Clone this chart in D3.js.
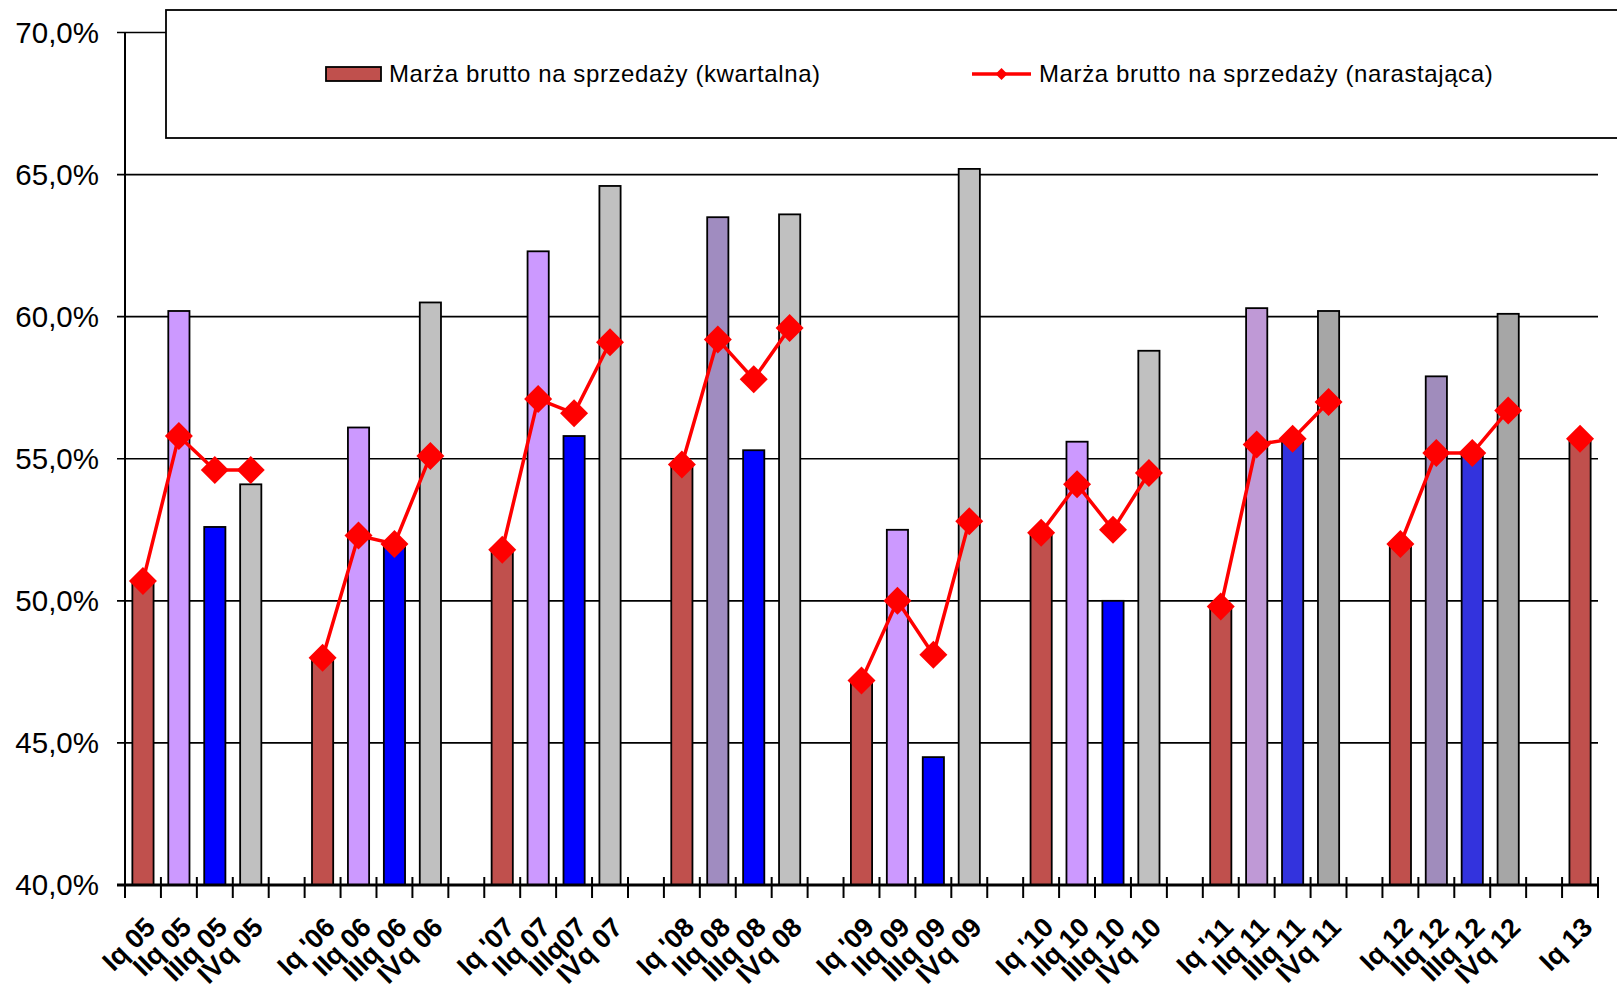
<!DOCTYPE html>
<html>
<head>
<meta charset="utf-8">
<script src="https://cdn.jsdelivr.net/npm/d3@7"></script>
<style>
  body { margin: 0; background: #fff; }
  svg { display: block; font-family: "Liberation Sans", Arial, sans-serif; }
</style>
</head>
<body>
<svg id="chart" width="1617" height="993"></svg>
<script>
// categories, "" = empty slot between years
var categories = [
  "Iq 05", "IIq 05", "IIIq 05", "IVq 05", "",
  "Iq '06", "IIq 06", "IIIq 06", "IVq 06", "",
  "Iq '07", "IIq 07", "IIIq07", "IVq 07", "",
  "Iq '08", "IIq 08", "IIIq 08", "IVq 08", "",
  "Iq '09", "IIq 09", "IIIq 09", "IVq 09", "",
  "Iq '10", "IIq 10", "IIIq 10", "IVq 10", "",
  "Iq '11", "IIq 11", "IIIq 11", "IVq 11", "",
  "Iq 12", "IIq 12", "IIIq 12", "IVq 12", "",
  "Iq 13"
];
// quarterly gross margin (%)
var quarterly = [
  50.7, 60.2, 52.6, 54.1, null,
  48.0, 56.1, 51.9, 60.5, null,
  51.8, 62.3, 55.8, 64.6, null,
  54.8, 63.5, 55.3, 63.6, null,
  47.2, 52.5, 44.5, 65.2, null,
  52.4, 55.6, 50.0, 58.8, null,
  49.8, 60.3, 55.7, 60.2, null,
  52.0, 57.9, 55.2, 60.1, null,
  55.7
];
// cumulative gross margin (%)
var cumulative = [
  50.7, 55.8, 54.6, 54.6, null,
  48.0, 52.3, 52.0, 55.1, null,
  51.8, 57.1, 56.6, 59.1, null,
  54.8, 59.2, 57.8, 59.6, null,
  47.2, 50.0, 48.1, 52.8, null,
  52.4, 54.1, 52.5, 54.5, null,
  49.8, 55.5, 55.7, 57.0, null,
  52.0, 55.2, 55.2, 56.7, null,
  55.7
];
var barColors = [
  "#c0504d", "#cc99ff", "#0000ff", "#c0c0c0", null,
  "#c0504d", "#cc99ff", "#0000ff", "#c0c0c0", null,
  "#c0504d", "#cc99ff", "#0000ff", "#c0c0c0", null,
  "#c0504d", "#a08cc0", "#0000ff", "#c0c0c0", null,
  "#c0504d", "#cc99ff", "#0000ff", "#c0c0c0", null,
  "#c0504d", "#cc99ff", "#0000ff", "#c0c0c0", null,
  "#c0504d", "#bf99d6", "#3333dd", "#a6a6a6", null,
  "#c0504d", "#a08cbc", "#3333dd", "#a6a6a6", null,
  "#c0504d"
];
var yTicks = [40, 45, 50, 55, 60, 65, 70];
var legendLabels = ["Marża brutto na sprzedaży (kwartalna)", "Marża brutto na sprzedaży (narastająca)"];

function draw() {
  var svg = d3.select("#chart");
  var mLeft = 125, mRight = 1598, mTop = 32.5, mBottom = 885;

  var x = d3.scaleBand()
    .domain(d3.range(categories.length))
    .range([mLeft, mRight])
    .paddingInner(0.41)
    .paddingOuter(0.205);
  var step = x.step();
  var y = d3.scaleLinear().domain([40, 70]).range([mBottom, mTop]);

  var pl = d3.formatLocale({decimal: ",", thousands: " ", grouping: [3], currency: ["", ""]});
  var fmt = pl.format(".1f");

  // gridlines
  svg.append("g").selectAll("line")
    .data(yTicks.filter(function(d) { return d > 40; }))
    .enter().append("line")
    .attr("x1", mLeft - 8).attr("x2", mRight)
    .attr("y1", function(d) { return y(d); })
    .attr("y2", function(d) { return y(d); })
    .attr("stroke", "#000").attr("stroke-width", 1.6);

  // y labels
  svg.append("g").selectAll("text")
    .data(yTicks)
    .enter().append("text")
    .attr("x", 99)
    .attr("y", function(d) { return y(d) + 10; })
    .attr("text-anchor", "end")
    .attr("font-size", 29.5)
    .text(function(d) { return fmt(d) + "%"; });

  // bars
  var idx = d3.range(categories.length).filter(function(i) { return quarterly[i] != null; });
  svg.append("g").selectAll("rect")
    .data(idx)
    .enter().append("rect")
    .attr("x", function(i) { return x(i); })
    .attr("y", function(i) { return y(quarterly[i]); })
    .attr("width", x.bandwidth())
    .attr("height", function(i) { return mBottom - y(quarterly[i]); })
    .attr("fill", function(i) { return barColors[i]; })
    .attr("stroke", "#000").attr("stroke-width", 1.8);

  // y axis line
  svg.append("line")
    .attr("x1", mLeft).attr("x2", mLeft)
    .attr("y1", mTop).attr("y2", mBottom)
    .attr("stroke", "#000").attr("stroke-width", 2);

  // x axis line and ticks
  svg.append("line")
    .attr("x1", mLeft - 8).attr("x2", mRight)
    .attr("y1", mBottom).attr("y2", mBottom)
    .attr("stroke", "#000").attr("stroke-width", 3);
  svg.append("g").selectAll("line")
    .data(d3.range(categories.length + 1))
    .enter().append("line")
    .attr("x1", function(i) { return mLeft + i * step; })
    .attr("x2", function(i) { return mLeft + i * step; })
    .attr("y1", mBottom - 8).attr("y2", mBottom + 13)
    .attr("stroke", "#000").attr("stroke-width", 2);

  // x labels
  svg.append("g").selectAll("text")
    .data(d3.range(categories.length))
    .enter().append("text")
    .attr("transform", function(i) {
      return "translate(" + (x(i) + x.bandwidth() / 2 + 14) + "," + (mBottom + 44) + ") rotate(-45)";
    })
    .attr("text-anchor", "end")
    .attr("font-size", 27)
    .attr("font-weight", "bold")
    .text(function(i) { return categories[i]; });

  // cumulative line
  var cx = function(i) { return x(i) + x.bandwidth() / 2; };
  var line = d3.line()
    .defined(function(i) { return cumulative[i] != null; })
    .x(cx)
    .y(function(i) { return y(cumulative[i]); });
  svg.append("path")
    .datum(d3.range(categories.length))
    .attr("d", line)
    .attr("fill", "none")
    .attr("stroke", "#ff0000").attr("stroke-width", 3.5);

  var diamond = d3.symbol().type(d3.symbolDiamond2);
  svg.append("g").selectAll("path")
    .data(d3.range(categories.length).filter(function(i) { return cumulative[i] != null; }))
    .enter().append("path")
    .attr("transform", function(i) { return "translate(" + cx(i) + "," + y(cumulative[i]) + ")"; })
    .attr("d", diamond.size(500)())
    .attr("fill", "#ff0000");

  // legend
  var lg = svg.append("g");
  lg.append("rect")
    .attr("x", 166).attr("y", 10)
    .attr("width", 1500).attr("height", 128)
    .attr("fill", "#fff").attr("stroke", "#000").attr("stroke-width", 1.8);
  lg.append("rect")
    .attr("x", 326).attr("y", 67).attr("width", 55).attr("height", 14)
    .attr("fill", barColors[0]).attr("stroke", "#000").attr("stroke-width", 1.8);
  lg.append("text")
    .attr("x", 389).attr("y", 82)
    .attr("font-size", 24)
    .attr("letter-spacing", 0.6)
    .text(legendLabels[0]);
  lg.append("line")
    .attr("x1", 972).attr("x2", 1031).attr("y1", 74).attr("y2", 74)
    .attr("stroke", "#ff0000").attr("stroke-width", 3.5);
  lg.append("path")
    .attr("transform", "translate(1001.5,74)")
    .attr("d", diamond.size(90)())
    .attr("fill", "#ff0000");
  lg.append("text")
    .attr("x", 1039).attr("y", 82)
    .attr("font-size", 24)
    .attr("letter-spacing", 0.6)
    .text(legendLabels[1]);
}

draw();
</script>
</body>
</html>
